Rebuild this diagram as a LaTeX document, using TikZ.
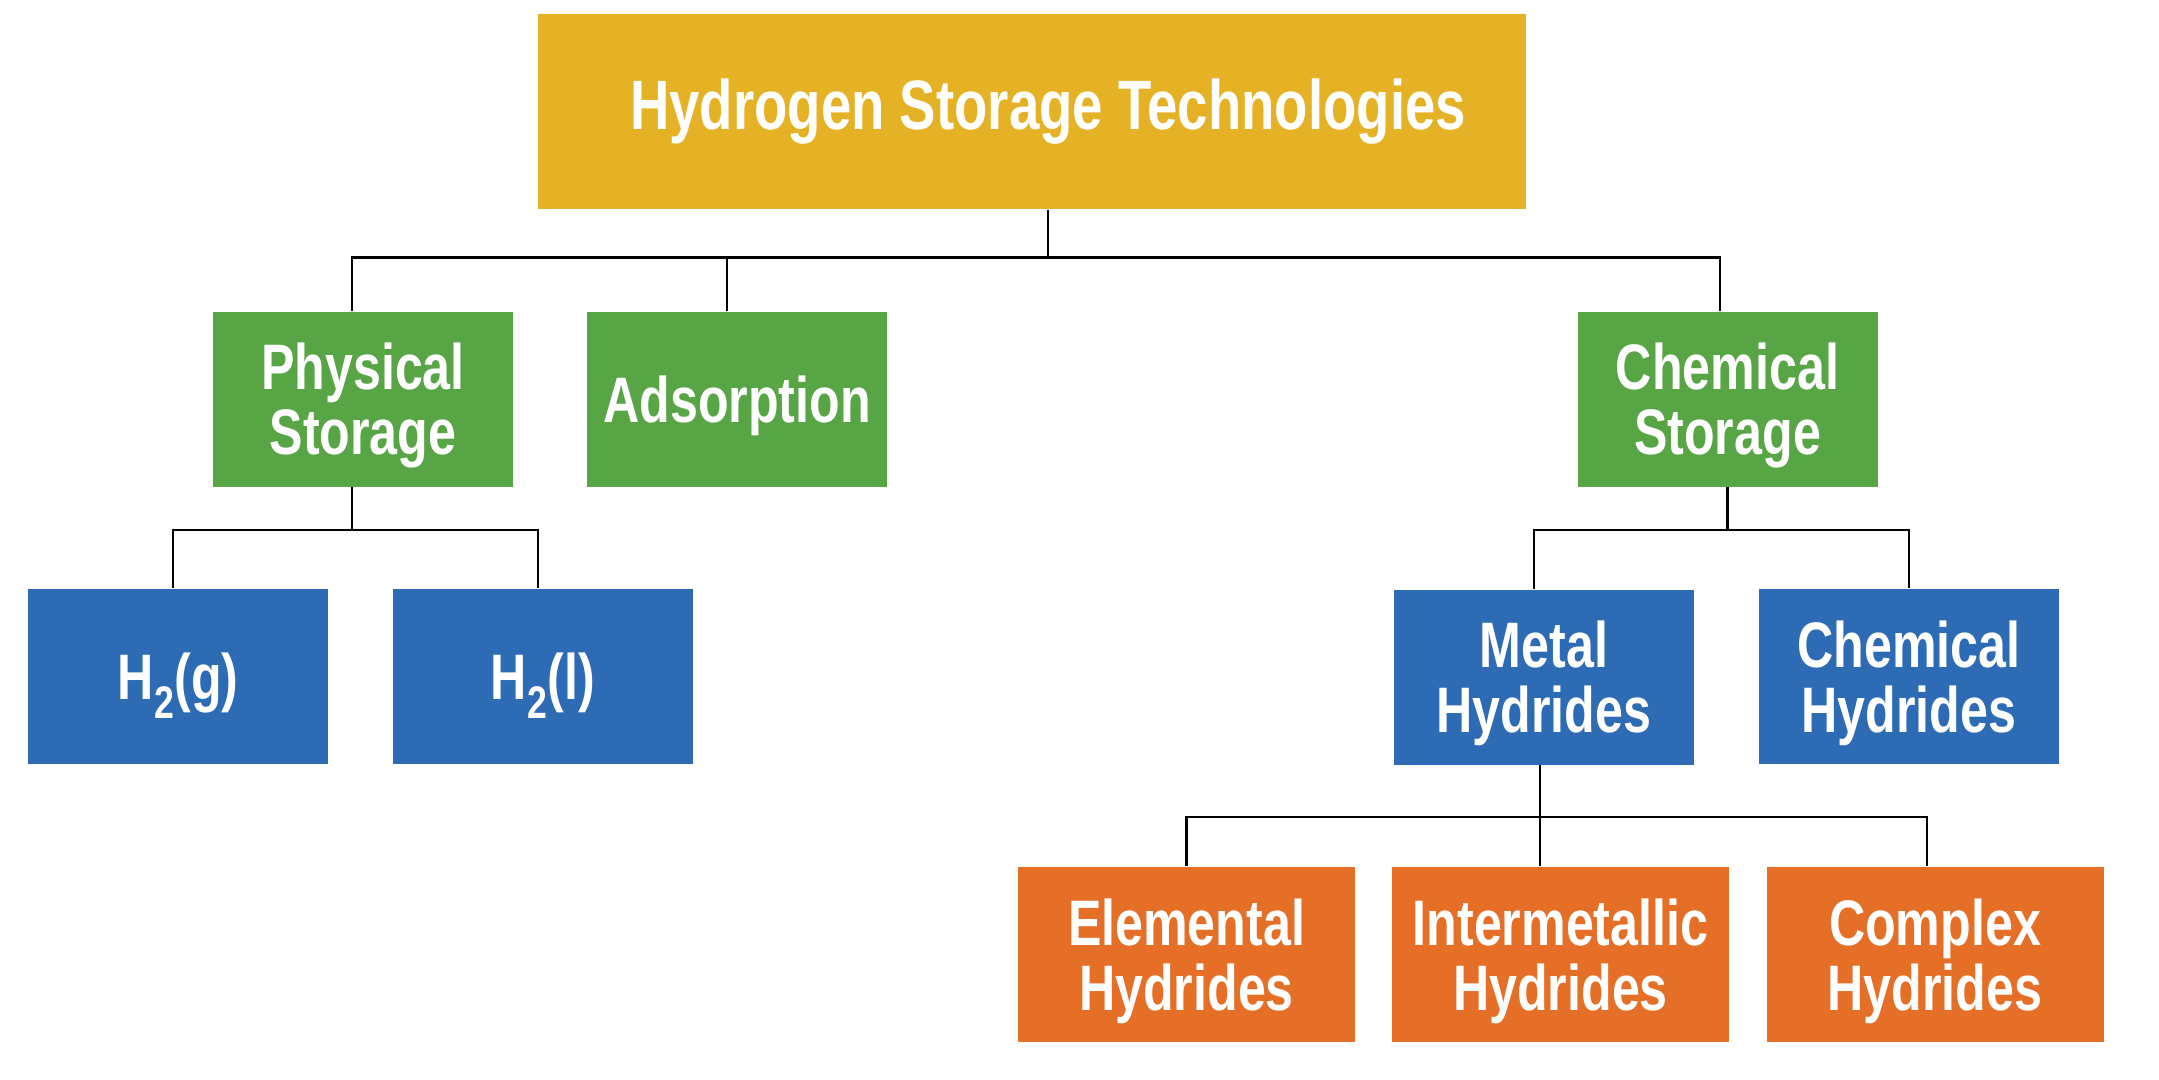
\documentclass[tikz,border=0pt]{standalone}
\usepackage{fontspec}
\setsansfont{Liberation Sans}[FakeStretch=0.78]
\definecolor{head}{HTML}{E6B225}
\definecolor{kind}{HTML}{58A545}
\definecolor{form}{HTML}{2D6BB4}
\definecolor{sub}{HTML}{E56F26}
\newcommand{\htwo}{H\kern0.3pt\raisebox{-0.19cm}{\fontsize{13}{13}\selectfont 2}}
\tikzset{box/.style={align=center,text=white,minimum width=30mm,minimum height=17.5mm,inner sep=2pt,font=\sffamily\bfseries\fontsize{18.3}{18.5}\selectfont},unit/.style={box,text depth=0pt},wide/.style={unit,minimum width=33.7mm},link/.style={draw=black,line width=0.7pt}}

\begin{document}
\begin{tikzpicture}
\useasboundingbox (0,0) rectangle (21.59,-10.79);
\node[box,fill=head,minimum width=98.8mm,minimum height=19.5mm,font=\sffamily\bfseries\fontsize{19.9}{21}\selectfont] (top) at (10.32,-1.115) {\hspace*{3.2mm}Hydrogen Storage Technologies};
\node[unit,fill=kind] (phys) at (3.63,-3.99) {Physical\\Storage};
\node[unit,fill=kind] (ads) at (7.37,-3.99) {Adsorption};
\node[unit,fill=kind] (chem) at (17.275,-3.99) {Chemical\\Storage};
\node[unit,fill=form] (gas) at (1.78,-6.76) {\htwo(g)};
\node[unit,fill=form] (liq) at (5.425,-6.76) {\htwo(l)};
\node[unit,fill=form] (metal) at (15.44,-6.77) {Metal\\Hydrides};
\node[unit,fill=form] (chemhyd) at (19.09,-6.765) {Chemical\\Hydrides};
\node[wide,fill=sub] (elem) at (11.865,-9.545) {Elemental\\Hydrides};
\node[wide,fill=sub] (inter) at (15.605,-9.545) {Intermetallic\\Hydrides};
\node[wide,fill=sub] (complex) at (19.35,-9.545) {Complex\\Hydrides};
\draw[link]([xshift=1.6mm]top.south)--++(0,-0.48)-|([xshift=-1.1mm]phys.north);\draw[link]([xshift=1.6mm]top.south)--++(0,-0.48)-|([xshift=-1mm]ads.north);\draw[link]([xshift=1.6mm]top.south)--++(0,-0.48)-|([xshift=-0.75mm]chem.north);
\draw[link]([xshift=-1.1mm]phys.south)--++(0,-0.43)-|([xshift=-0.5mm]gas.north);\draw[link]([xshift=-1.1mm]phys.south)--++(0,-0.43)-|([xshift=-0.45mm]liq.north);
\draw[link](chem.south)--++(0,-0.43)-|([xshift=-1mm]metal.north);\draw[link](chem.south)--++(0,-0.43)-|(chemhyd.north);
\draw[link]([xshift=-0.4mm]metal.south)--++(0,-0.52)-|(elem.north);\draw[link]([xshift=-0.4mm]metal.south)--([xshift=-0.4mm]metal.south|-inter.north);\draw[link]([xshift=-0.4mm]metal.south)--++(0,-0.52)-|([xshift=-0.8mm]complex.north);
\end{tikzpicture}
\end{document}
